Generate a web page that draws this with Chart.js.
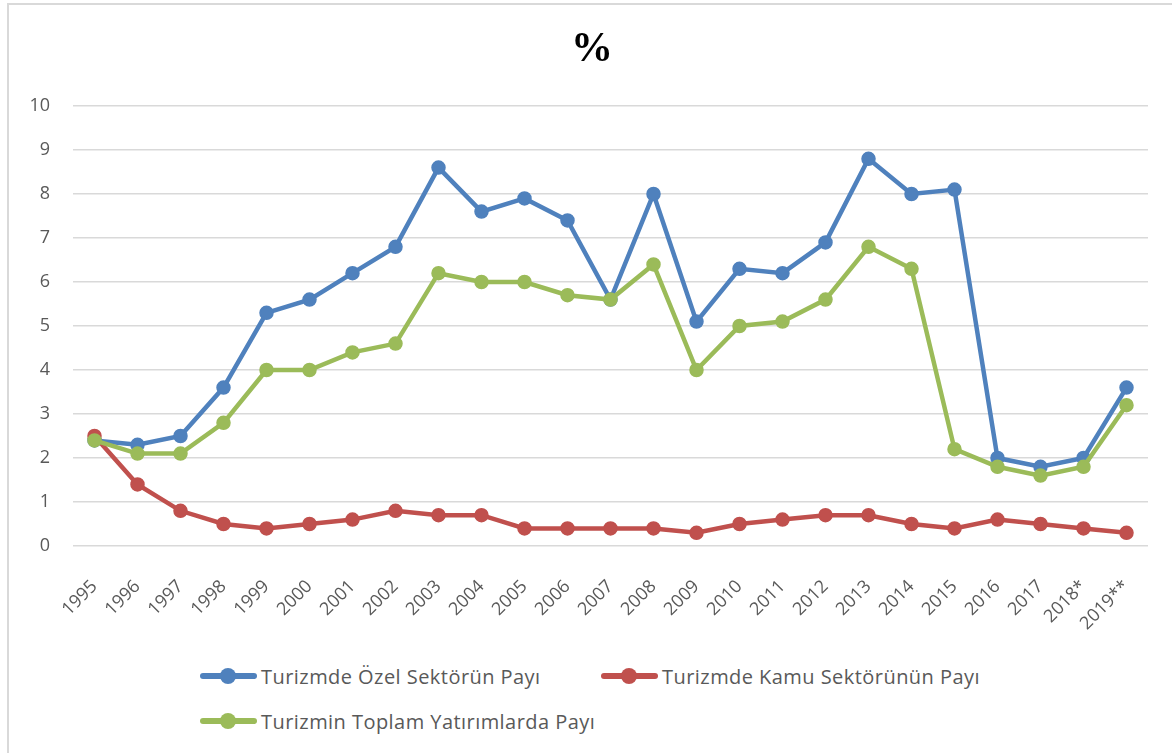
<!DOCTYPE html>
<html>
<head>
<meta charset="utf-8">
<script src="https://cdn.jsdelivr.net/npm/chart.js@4.4.1/dist/chart.umd.min.js"></script>
<style>
  html, body { margin: 0; padding: 0; background: #fff; overflow: hidden; width: 1172px; height: 753px; }
  #frame { position: absolute; left: 7px; top: 3px; width: 1200px; height: 800px;
           border-left: 2px solid #d9d9d9; border-top: 2px solid #d9d9d9; }
  #chartBox { position: absolute; left: 0; top: 0; width: 1168px; height: 640px; }
  #title { position: absolute; left: 492px; top: 22px; width: 200px; text-align: center;
           font-family: "Liberation Serif", serif; font-weight: bold; font-size: 42px; line-height: 50px; color: #000; }
  .legend-item { position: absolute; display: flex; align-items: center; height: 26px; letter-spacing: 0.45px;
                 font-family: "Open Sans", sans-serif; font-size: 20px; color: #595959; white-space: nowrap; }
  .legend-mark { position: relative; width: 57px; height: 16px; margin-right: 4px; }
  .legend-mark .ln { position: absolute; left: 0; top: 5px; width: 57px; height: 6px; border-radius: 3px; }
  .legend-mark .dot { position: absolute; left: 20px; top: 0; width: 16px; height: 16px; border-radius: 50%; }
</style>
</head>
<body>
<div id="frame">
  <div id="chartBox"><canvas id="chart"></canvas></div>
</div>
<div id="title">%</div>
<div id="legend"></div>
<script>
const years = ['1995', '1996', '1997', '1998', '1999', '2000', '2001', '2002', '2003', '2004',
  '2005', '2006', '2007', '2008', '2009', '2010', '2011', '2012', '2013', '2014',
  '2015', '2016', '2017', '2018*', '2019**'];

const ozelSektorPayi = [2.4, 2.3, 2.5, 3.6, 5.3, 5.6, 6.2, 6.8, 8.6, 7.6,
  7.9, 7.4, 5.6, 8.0, 5.1, 6.3, 6.2, 6.9, 8.8, 8.0,
  8.1, 2.0, 1.8, 2.0, 3.6];

const kamuSektorPayi = [2.5, 1.4, 0.8, 0.5, 0.4, 0.5, 0.6, 0.8, 0.7, 0.7,
  0.4, 0.4, 0.4, 0.4, 0.3, 0.5, 0.6, 0.7, 0.7, 0.5,
  0.4, 0.6, 0.5, 0.4, 0.3];

const toplamYatirimPayi = [2.4, 2.1, 2.1, 2.8, 4.0, 4.0, 4.4, 4.6, 6.2, 6.0,
  6.0, 5.7, 5.6, 6.4, 4.0, 5.0, 5.1, 5.6, 6.8, 6.3,
  2.2, 1.8, 1.6, 1.8, 3.2];

const seriesNames = ['Turizmde Özel Sektörün Payı', 'Turizmde Kamu Sektörünün Payı', 'Turizmin Toplam Yatırımlarda Payı'];
const seriesColors = ['#4f81bd', '#c0504d', '#9bbb59'];

function lineSet(i, data, order) {
  return {
    label: seriesNames[i],
    data: data,
    borderColor: seriesColors[i],
    backgroundColor: seriesColors[i],
    borderWidth: 4.5,
    pointRadius: 6.5,
    pointBorderWidth: 1.5,
    pointBackgroundColor: seriesColors[i],
    pointBorderColor: seriesColors[i],
    tension: 0,
    order: order
  };
}

const chart = new Chart(document.getElementById('chart'), {
  type: 'line',
  data: {
    labels: years,
    datasets: [
      lineSet(0, ozelSektorPayi, 2),
      lineSet(1, kamuSektorPayi, 1),
      lineSet(2, toplamYatirimPayi, 0)
    ]
  },
  options: {
    responsive: true,
    maintainAspectRatio: false,
    animation: false,
    layout: { padding: { left: 0, right: 29, top: 101, bottom: 0 } },
    plugins: {
      legend: { display: false },
      tooltip: { enabled: false },
      title: { display: false }
    },
    scales: {
      x: {
        offset: true,
        grid: { display: false },
        border: { display: false },
        afterFit: (scale) => { scale.height = 99; },
        ticks: {
          autoSkip: false,
          maxRotation: 45,
          minRotation: 45,
          padding: 22,
          color: '#595959',
          font: { family: 'Open Sans', size: 18 }
        }
      },
      y: {
        min: 0,
        max: 10,
        afterFit: (scale) => { scale.width = 64; },
        grid: { color: '#d9d9d9', lineWidth: 1.5, drawTicks: false },
        border: { display: false },
        ticks: {
          stepSize: 1,
          padding: 23,
          color: '#595959',
          font: { family: 'Open Sans', size: 18 }
        }
      }
    }
  }
});

// legend in HTML: Excel puts two entries on the first row, one on the second
const legendPos = [[200, 663], [601, 663], [200, 708]];
const legendEl = document.getElementById('legend');
chart.data.datasets.forEach((ds, i) => {
  const item = document.createElement('div');
  item.className = 'legend-item';
  item.style.left = legendPos[i][0] + 'px';
  item.style.top = legendPos[i][1] + 'px';
  item.innerHTML = '<span class="legend-mark"><span class="ln" style="background:' + ds.borderColor +
    '"></span><span class="dot" style="background:' + ds.borderColor + '"></span></span>';
  item.appendChild(document.createTextNode(ds.label));
  legendEl.appendChild(item);
});
</script>
</body>
</html>
